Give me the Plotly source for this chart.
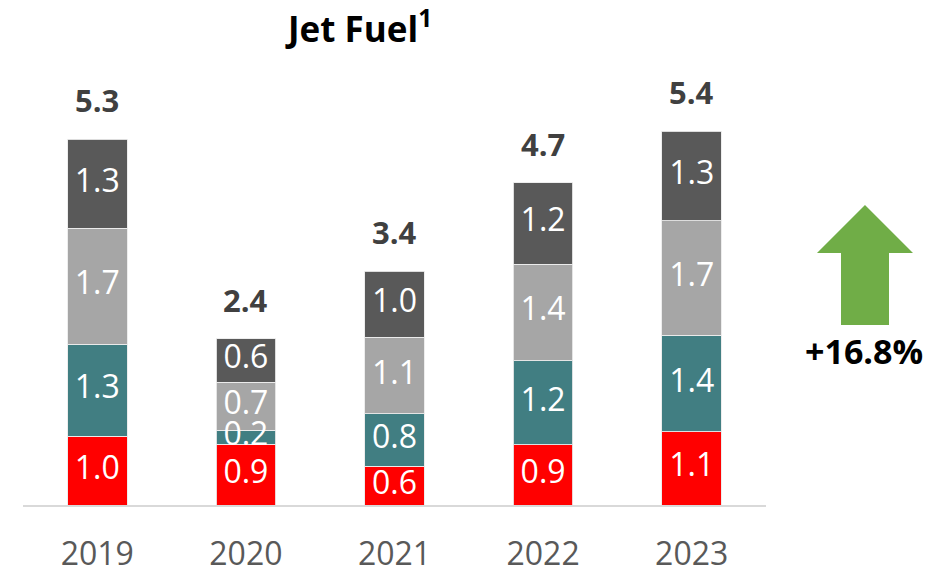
import plotly.graph_objects as go

# ---- data ----
years = ["2019", "2020", "2021", "2022", "2023"]
seg_red = [1.00, 0.88, 0.56, 0.87, 1.06]
seg_teal = [1.33, 0.20, 0.76, 1.22, 1.40]
seg_lgray = [1.68, 0.70, 1.11, 1.40, 1.66]
seg_dgray = [1.29, 0.63, 0.96, 1.18, 1.30]
series = [seg_red, seg_teal, seg_lgray, seg_dgray]
series_names = ["Segment 1", "Segment 2", "Segment 3", "Segment 4"]
colors = ["#FF0000", "#417E82", "#A6A6A6", "#595959"]
title_text = "<b>Jet Fuel<sup>1</sup></b>"
change_text = "<b>+16.8%</b>"

totals = [sum(v) for v in zip(*series)]

# ---- layout geometry (page pixels; page body has an 8px margin) ----
OFF = 8
W, H = 948 - 2 * OFF, 575 - OFF
PLOT_X0, PLOT_X1, PLOT_Y0, PLOT_Y1 = 23, 766, 91, 505  # target page coords
L = PLOT_X0 - OFF
R = W - (PLOT_X1 - OFF)
T = PLOT_Y0 - OFF
B = H - (PLOT_Y1 - OFF)
PW, PH = W - L - R, H - T - B
FONT = "Open Sans"


def px(x):
    return (x - PLOT_X0) / PW


def py(y):
    return (PLOT_Y1 - y) / PH


fig = go.Figure()
for vals, name, col in zip(series, series_names, colors):
    fig.add_trace(go.Bar(
        x=years, y=vals, name=name,
        marker=dict(color=col, line=dict(color="rgba(235,235,235,0.9)", width=1)),
        hoverinfo="skip",
    ))

# segment value labels drawn on top of all bars (centred in each segment)
base = [0.0] * len(years)
for vals in series:
    mids = [b + v / 2 for b, v in zip(base, vals)]
    fig.add_trace(go.Scatter(
        x=years, y=mids, mode="text",
        text=[f"{v:.1f}" for v in vals], textposition="middle center",
        textfont=dict(family=FONT, size=32, color="white"),
        cliponaxis=False, hoverinfo="skip", showlegend=False,
    ))
    base = [b + v for b, v in zip(base, vals)]

annotations = []
for i, tot in enumerate(totals):
    annotations.append(dict(
        x=i, y=tot, xref="x", yref="y", text=f"<b>{tot:.1f}</b>",
        showarrow=False, yanchor="middle", yshift=39,
        font=dict(family=FONT, size=31, color="#404040"),
    ))

annotations.append(dict(
    x=px(358), y=py(27), xref="paper", yref="paper", text=title_text,
    showarrow=False, xanchor="center", yanchor="middle",
    font=dict(family=FONT, size=35, color="#000000"),
))
annotations.append(dict(
    x=px(864), y=py(351), xref="paper", yref="paper", text=change_text,
    showarrow=False, xanchor="center", yanchor="middle",
    font=dict(family=FONT, size=34, color="#000000"),
))

arrow_pts = [(865, 205), (913, 253), (889, 253), (889, 325),
             (841, 325), (841, 253), (817, 253)]
path = "M " + " L ".join(f"{px(a):.5f},{py(b):.5f}" for a, b in arrow_pts) + " Z"

fig.update_layout(
    width=W, height=H,
    margin=dict(l=L, r=R, t=T, b=B, pad=0, autoexpand=False),
    barmode="stack", bargap=0.6,
    showlegend=False,
    paper_bgcolor="white", plot_bgcolor="white",
    xaxis=dict(type="category", categoryorder="array", categoryarray=years,
               range=[-0.5, len(years) - 0.5], autorange=False,
               automargin=False,
               showline=True, linecolor="#D9D9D9", linewidth=1.5,
               showgrid=False, ticks="outside", ticklen=20,
               tickcolor="rgba(0,0,0,0)", zeroline=False,
               tickfont=dict(family=FONT, size=32, color="#595959")),
    yaxis=dict(range=[0, 6.0], autorange=False, visible=False, automargin=False,
               showgrid=False, zeroline=False),
    annotations=annotations,
    shapes=[dict(type="path", path=path, xref="paper", yref="paper",
                 fillcolor="#70AD47", line=dict(width=0), layer="above")],
)

fig.write_html("out.html")
